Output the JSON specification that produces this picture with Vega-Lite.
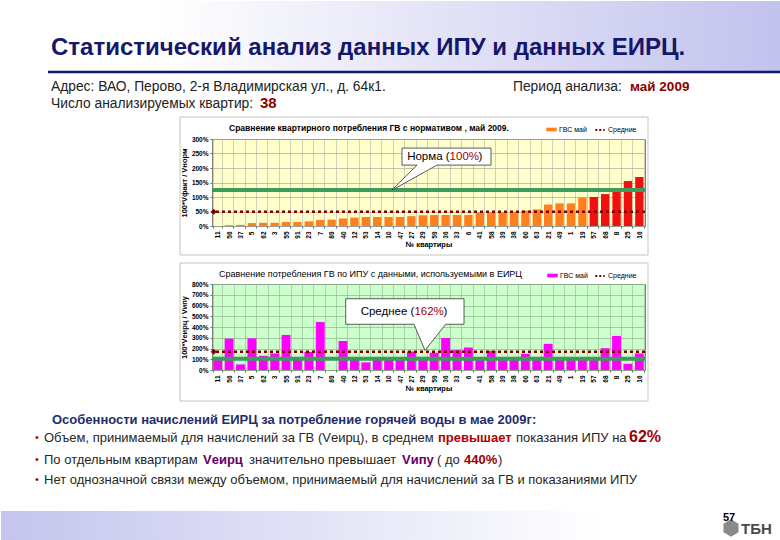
{
  "$schema": "https://vega.github.io/schema/vega-lite/v6.json",
  "padding": 0,
  "background": "white",
  "spacing": 6,
  "resolve": {"scale": {"fill": "independent", "stroke": "independent"}, "legend": {"fill": "independent", "stroke": "independent"}},
  "config": {
    "font": "Liberation Sans",
    "axis": {"labelColor": "#000", "titleColor": "#000", "domain": false, "tickColor": "#666", "tickSize": 2},
    "legend": {"labelFont": "Liberation Sans", "labelColor": "#000"}
  },
  "datasets": {
    "apts": [
      {"apt": "11", "v1": 0, "v2": 112, "c1": "ГВС май"},
      {"apt": "56", "v1": 3, "v2": 292, "c1": "ГВС май"},
      {"apt": "37", "v1": 4, "v2": 52, "c1": "ГВС май"},
      {"apt": "5", "v1": 10, "v2": 295, "c1": "ГВС май"},
      {"apt": "62", "v1": 11, "v2": 132, "c1": "ГВС май"},
      {"apt": "3", "v1": 11, "v2": 154, "c1": "ГВС май"},
      {"apt": "55", "v1": 14, "v2": 326, "c1": "ГВС май"},
      {"apt": "91", "v1": 14, "v2": 115, "c1": "ГВС май"},
      {"apt": "23", "v1": 16, "v2": 169, "c1": "ГВС май"},
      {"apt": "7", "v1": 21, "v2": 446, "c1": "ГВС май"},
      {"apt": "89", "v1": 22, "v2": 0, "c1": "ГВС май"},
      {"apt": "40", "v1": 26, "v2": 270, "c1": "ГВС май"},
      {"apt": "12", "v1": 29, "v2": 112, "c1": "ГВС май"},
      {"apt": "53", "v1": 31, "v2": 71, "c1": "ГВС май"},
      {"apt": "14", "v1": 31, "v2": 112, "c1": "ГВС май"},
      {"apt": "10", "v1": 31, "v2": 112, "c1": "ГВС май"},
      {"apt": "47", "v1": 31, "v2": 112, "c1": "ГВС май"},
      {"apt": "27", "v1": 34, "v2": 172, "c1": "ГВС май"},
      {"apt": "29", "v1": 37, "v2": 112, "c1": "ГВС май"},
      {"apt": "59", "v1": 38, "v2": 160, "c1": "ГВС май"},
      {"apt": "36", "v1": 38, "v2": 298, "c1": "ГВС май"},
      {"apt": "33", "v1": 38, "v2": 185, "c1": "ГВС май"},
      {"apt": "6", "v1": 38, "v2": 209, "c1": "ГВС май"},
      {"apt": "41", "v1": 46, "v2": 112, "c1": "ГВС май"},
      {"apt": "58", "v1": 47, "v2": 178, "c1": "ГВС май"},
      {"apt": "39", "v1": 47, "v2": 118, "c1": "ГВС май"},
      {"apt": "38", "v1": 49, "v2": 100, "c1": "ГВС май"},
      {"apt": "60", "v1": 53, "v2": 151, "c1": "ГВС май"},
      {"apt": "63", "v1": 57, "v2": 112, "c1": "ГВС май"},
      {"apt": "21", "v1": 74, "v2": 243, "c1": "ГВС май"},
      {"apt": "49", "v1": 78, "v2": 112, "c1": "ГВС май"},
      {"apt": "1", "v1": 78, "v2": 112, "c1": "ГВС май"},
      {"apt": "19", "v1": 98, "v2": 112, "c1": "ГВС май"},
      {"apt": "57", "v1": 100, "v2": 112, "c1": "выше нормы"},
      {"apt": "68", "v1": 110, "v2": 203, "c1": "выше нормы"},
      {"apt": "8", "v1": 118, "v2": 317, "c1": "выше нормы"},
      {"apt": "25", "v1": 155, "v2": 58, "c1": "выше нормы"},
      {"apt": "16", "v1": 169, "v2": 154, "c1": "выше нормы"}
    ],
    "one": [{}]
  },
  "vconcat": [
    {
      "width": 433,
      "height": 87,
      "view": {"fill": "#FFFFCC", "stroke": "#808080"},
      "layer": [
        {
          "data": {"name": "one"},
          "mark": {"type": "rect", "fill": {"gradient": "linear", "x1": 0, "x2": 1, "y1": 0, "y2": 0, "stops": [{"offset": 0, "color": "#FFFFFF"}, {"offset": 0.2, "color": "#FFFFFF"}, {"offset": 1, "color": "#C2C2EE"}]}},
          "encoding": {"x": {"value": -211}, "x2": {"value": 569}, "y": {"value": -138}, "y2": {"value": -68}}
        },
        {
          "data": {"name": "one"},
          "mark": {"type": "rule", "color": "#14186B", "strokeWidth": 2.5},
          "encoding": {"x": {"value": -164}, "x2": {"value": 569}, "y": {"value": -67}}
        },
        {
          "data": {"name": "one"},
          "mark": {"type": "rect", "fill": "#FFFFFF", "fillOpacity": 0, "stroke": "#C4C4C4", "strokeWidth": 1},
          "encoding": {"x": {"value": -32}, "x2": {"value": 436}, "y": {"value": -22}, "y2": {"value": 116}}
        },
        {
          "data": {"name": "apts"},
          "mark": {"type": "bar"},
          "encoding": {
            "x": {
              "field": "apt", "type": "nominal", "sort": null,
              "scale": {"paddingInner": 0.27, "paddingOuter": 0.13},
              "axis": {"labelAngle": -90, "labelFontSize": 6.5, "labelFontWeight": "bold", "labelPadding": 3, "title": "№ квартиры", "titleFontSize": 7.5, "titleFontWeight": "bold", "titlePadding": 2, "tickBand": "extent", "grid": true, "gridColor": "#BDBDA8", "gridWidth": 0.7}
            },
            "y": {
              "field": "v1", "type": "quantitative",
              "scale": {"domain": [0, 300], "nice": false},
              "axis": {"values": [0, 50, 100, 150, 200, 250, 300], "labelExpr": "datum.value + '%'", "labelFontSize": 6.5, "labelFontWeight": "bold", "title": "100*Vфакт / Vнорм", "titleFontSize": 7.5, "titleFontWeight": "bold", "titlePadding": 3, "gridColor": "#A8A8A0", "gridWidth": 0.7, "labelOverlap": false}
            },
            "fill": {
              "field": "c1", "type": "nominal",
              "scale": {"domain": ["ГВС май", "выше нормы"], "range": ["#FF7F1E", "#F01010"]},
              "legend": {"values": ["ГВС май"], "orient": "none", "legendX": 334, "legendY": -15, "title": null, "symbolType": "M-1,-0.35L1,-0.35L1,0.35L-1,0.35Z", "symbolSize": 110, "labelFontSize": 7, "labelOffset": 2, "padding": 0, "symbolStrokeWidth": 0}
            }
          }
        },
        {
          "data": {"name": "one"},
          "mark": {"type": "rule", "color": "#3D9C5A", "strokeWidth": 4},
          "encoding": {"y": {"datum": 124, "type": "quantitative", "scale": {"domain": [0, 300], "nice": false}, "axis": {"values": [0, 50, 100, 150, 200, 250, 300], "labelExpr": "datum.value + '%'", "labelFontSize": 6.5, "labelFontWeight": "bold", "title": "100*Vфакт / Vнорм", "titleFontSize": 7.5, "titleFontWeight": "bold", "titlePadding": 3, "gridColor": "#A8A8A0", "gridWidth": 0.7, "labelOverlap": false}}}
        },
        {
          "data": {"name": "one"},
          "mark": {"type": "rule", "strokeDash": [3, 3], "strokeWidth": 2.5},
          "encoding": {
            "y": {"datum": 49, "type": "quantitative", "scale": {"domain": [0, 300], "nice": false}, "axis": {"values": [0, 50, 100, 150, 200, 250, 300], "labelExpr": "datum.value + '%'", "labelFontSize": 6.5, "labelFontWeight": "bold", "title": "100*Vфакт / Vнорм", "titleFontSize": 7.5, "titleFontWeight": "bold", "titlePadding": 3, "gridColor": "#A8A8A0", "gridWidth": 0.7, "labelOverlap": false}},
            "stroke": {"datum": "Средние", "scale": {"domain": ["Средние"], "range": ["#800000"]}, "legend": {"orient": "none", "legendX": 382, "legendY": -15, "title": null, "symbolType": "M-1,0L1,0", "symbolSize": 90, "symbolStrokeWidth": 2, "symbolDash": [2, 2], "labelFontSize": 7, "labelOffset": 2, "padding": 0}}
          }
        },
        {
          "data": {"name": "one"},
          "mark": {"type": "point", "shape": "diamond", "filled": true, "color": "#800000", "size": 35, "opacity": 1, "xOffset": -4},
          "encoding": {"x": {"datum": "11"}, "y": {"datum": 49, "type": "quantitative", "scale": {"domain": [0, 300], "nice": false}, "axis": {"values": [0, 50, 100, 150, 200, 250, 300], "labelExpr": "datum.value + '%'", "labelFontSize": 6.5, "labelFontWeight": "bold", "title": "100*Vфакт / Vнорм", "titleFontSize": 7.5, "titleFontWeight": "bold", "titlePadding": 3, "gridColor": "#A8A8A0", "gridWidth": 0.7, "labelOverlap": false}}}
        },
        {
          "data": {"name": "one"},
          "mark": {"type": "point", "shape": "M-0.969,-0.187 L1.009,-0.187 L1.009,0.191 L-0.191,0.191 L-1.191,0.747 L-0.636,0.191 L-0.969,0.191 Z", "size": 8100, "filled": true, "fill": "#FFFFFF", "stroke": "#333333", "strokeWidth": 0.8, "opacity": 1},
          "encoding": {"x": {"datum": "36"}, "y": {"value": 17.5}}
        },
        {
          "data": {"name": "one"},
          "mark": {"type": "text", "text": "Норма (", "align": "right", "baseline": "middle", "fontSize": 11.5, "color": "#000", "dx": 4},
          "encoding": {"x": {"datum": "36"}, "y": {"value": 17.5}}
        },
        {
          "data": {"name": "one"},
          "mark": {"type": "text", "text": "100%", "align": "left", "baseline": "middle", "fontSize": 11.5, "color": "#A00000", "dx": 4},
          "encoding": {"x": {"datum": "36"}, "y": {"value": 17.5}}
        },
        {
          "data": {"name": "one"},
          "mark": {"type": "text", "text": ")", "align": "left", "baseline": "middle", "fontSize": 11.5, "color": "#000", "dx": 33},
          "encoding": {"x": {"datum": "36"}, "y": {"value": 17.5}}
        },
        {
          "data": {"name": "one"},
          "mark": {"type": "text", "text": "Сравнение квартирного потребления ГВ с нормативом , май 2009.", "align": "left", "baseline": "middle", "fontSize": 8.5, "fontWeight": "bold", "color": "#000"},
          "encoding": {"x": {"value": 17}, "y": {"value": -11}}
        },
        {
          "data": {"name": "one"},
          "mark": {"type": "text", "text": "Статистический анализ данных ИПУ и данных ЕИРЦ.", "align": "left", "baseline": "middle", "fontSize": 24, "fontWeight": "bold", "color": "#14186B"},
          "encoding": {"x": {"value": -161}, "y": {"value": -91}}
        },
        {
          "data": {"name": "one"},
          "mark": {"type": "text", "text": "Адрес: ВАО, Перово, 2-я Владимирская ул., д. 64к1.", "align": "left", "baseline": "middle", "fontSize": 13.8, "color": "#222"},
          "encoding": {"x": {"value": -161}, "y": {"value": -52}}
        },
        {
          "data": {"name": "one"},
          "mark": {"type": "text", "text": "Период анализа:", "align": "left", "baseline": "middle", "fontSize": 13.8, "color": "#222"},
          "encoding": {"x": {"value": 301}, "y": {"value": -52}}
        },
        {
          "data": {"name": "one"},
          "mark": {"type": "text", "text": "май 2009", "align": "left", "baseline": "middle", "fontSize": 13.5, "fontWeight": "bold", "color": "#8B0000"},
          "encoding": {"x": {"value": 418}, "y": {"value": -52}}
        },
        {
          "data": {"name": "one"},
          "mark": {"type": "text", "text": "Число анализируемых квартир:", "align": "left", "baseline": "middle", "fontSize": 13.8, "color": "#222"},
          "encoding": {"x": {"value": -161}, "y": {"value": -35}}
        },
        {
          "data": {"name": "one"},
          "mark": {"type": "text", "text": "38", "align": "left", "baseline": "middle", "fontSize": 15, "fontWeight": "bold", "color": "#8B0000"},
          "encoding": {"x": {"value": 48}, "y": {"value": -36}}
        }
      ]
    },
    {
      "width": 433,
      "height": 86,
      "view": {"fill": "#CCFFCC", "stroke": "#808080"},
      "layer": [
        {
          "data": {"name": "one"},
          "mark": {"type": "rect", "fill": {"gradient": "linear", "x1": 0, "x2": 1, "y1": 0, "y2": 0, "stops": [{"offset": 0, "color": "#C4C4EE"}, {"offset": 1, "color": "#FFFFFF"}]}},
          "encoding": {"x": {"value": -211}, "x2": {"value": 389}, "y": {"value": 227}, "y2": {"value": 259}}
        },
        {
          "data": {"name": "one"},
          "mark": {"type": "rect", "fill": "#FFFFFF", "fillOpacity": 0, "stroke": "#C4C4C4", "strokeWidth": 1},
          "encoding": {"x": {"value": -32}, "x2": {"value": 436}, "y": {"value": -21}, "y2": {"value": 117}}
        },
        {
          "data": {"name": "apts"},
          "mark": {"type": "bar"},
          "encoding": {
            "x": {
              "field": "apt", "type": "nominal", "sort": null,
              "scale": {"paddingInner": 0.22, "paddingOuter": 0.11},
              "axis": {"labelAngle": -90, "labelFontSize": 6.5, "labelFontWeight": "bold", "labelPadding": 3, "title": "№ квартиры", "titleFontSize": 7.5, "titleFontWeight": "bold", "titlePadding": 2, "tickBand": "extent", "grid": true, "gridColor": "#98BF98", "gridWidth": 0.7}
            },
            "y": {
              "field": "v2", "type": "quantitative",
              "scale": {"domain": [0, 800], "nice": false},
              "axis": {"values": [0, 100, 200, 300, 400, 500, 600, 700, 800], "labelExpr": "datum.value + '%'", "labelFontSize": 6.5, "labelFontWeight": "bold", "title": "100*Vеирц / Vипу", "titleFontSize": 7.5, "titleFontWeight": "bold", "titlePadding": 3, "gridColor": "#8FB58F", "gridWidth": 0.7, "labelOverlap": false}
            },
            "fill": {
              "datum": "ГВС май",
              "scale": {"domain": ["ГВС май"], "range": ["#FF00FF"]},
              "legend": {"orient": "none", "legendX": 335, "legendY": -14, "title": null, "symbolType": "M-1,-0.35L1,-0.35L1,0.35L-1,0.35Z", "symbolSize": 110, "labelFontSize": 7, "labelOffset": 2, "padding": 0, "symbolStrokeWidth": 0}
            }
          }
        },
        {
          "data": {"name": "one"},
          "mark": {"type": "rule", "color": "#3D9C5A", "strokeWidth": 4},
          "encoding": {"y": {"datum": 105, "type": "quantitative", "scale": {"domain": [0, 800], "nice": false}, "axis": {"values": [0, 100, 200, 300, 400, 500, 600, 700, 800], "labelExpr": "datum.value + '%'", "labelFontSize": 6.5, "labelFontWeight": "bold", "title": "100*Vеирц / Vипу", "titleFontSize": 7.5, "titleFontWeight": "bold", "titlePadding": 3, "gridColor": "#8FB58F", "gridWidth": 0.7, "labelOverlap": false}}}
        },
        {
          "data": {"name": "one"},
          "mark": {"type": "rule", "strokeDash": [3, 3], "strokeWidth": 2.5},
          "encoding": {
            "y": {"datum": 170, "type": "quantitative", "scale": {"domain": [0, 800], "nice": false}, "axis": {"values": [0, 100, 200, 300, 400, 500, 600, 700, 800], "labelExpr": "datum.value + '%'", "labelFontSize": 6.5, "labelFontWeight": "bold", "title": "100*Vеирц / Vипу", "titleFontSize": 7.5, "titleFontWeight": "bold", "titlePadding": 3, "gridColor": "#8FB58F", "gridWidth": 0.7, "labelOverlap": false}},
            "stroke": {"datum": "Средние", "scale": {"domain": ["Средние"], "range": ["#800000"]}, "legend": {"orient": "none", "legendX": 382, "legendY": -14, "title": null, "symbolType": "M-1,0L1,0", "symbolSize": 90, "symbolStrokeWidth": 2, "symbolDash": [2, 2], "labelFontSize": 7, "labelOffset": 2, "padding": 0}}
          }
        },
        {
          "data": {"name": "one"},
          "mark": {"type": "point", "shape": "diamond", "filled": true, "color": "#800000", "size": 35, "opacity": 1, "xOffset": -4},
          "encoding": {"x": {"datum": "11"}, "y": {"datum": 170, "type": "quantitative", "scale": {"domain": [0, 800], "nice": false}, "axis": {"values": [0, 100, 200, 300, 400, 500, 600, 700, 800], "labelExpr": "datum.value + '%'", "labelFontSize": 6.5, "labelFontWeight": "bold", "title": "100*Vеирц / Vипу", "titleFontSize": 7.5, "titleFontWeight": "bold", "titlePadding": 3, "gridColor": "#8FB58F", "gridWidth": 0.7, "labelOverlap": false}}}
        },
        {
          "data": {"name": "one"},
          "mark": {"type": "point", "shape": "M-1.095,-0.218 L0.877,-0.218 L0.877,0.208 L0.572,0.208 L0.227,0.642 L0.043,0.208 L-1.095,0.208 Z", "size": 14400, "filled": true, "fill": "#FFFFFF", "stroke": "#333333", "strokeWidth": 0.8, "opacity": 1},
          "encoding": {"x": {"datum": "27"}, "y": {"value": 27.8}}
        },
        {
          "data": {"name": "one"},
          "mark": {"type": "text", "text": "Среднее (", "align": "right", "baseline": "middle", "fontSize": 11.5, "color": "#000", "dx": 3},
          "encoding": {"x": {"datum": "27"}, "y": {"value": 27.8}}
        },
        {
          "data": {"name": "one"},
          "mark": {"type": "text", "text": "162%", "align": "left", "baseline": "middle", "fontSize": 11.5, "color": "#A00000", "dx": 3},
          "encoding": {"x": {"datum": "27"}, "y": {"value": 27.8}}
        },
        {
          "data": {"name": "one"},
          "mark": {"type": "text", "text": ")", "align": "left", "baseline": "middle", "fontSize": 11.5, "color": "#000", "dx": 32},
          "encoding": {"x": {"datum": "27"}, "y": {"value": 27.8}}
        },
        {
          "data": {"name": "one"},
          "mark": {"type": "text", "text": "Сравнение потребления ГВ по ИПУ  с данными, используемыми в ЕИРЦ", "align": "left", "baseline": "middle", "fontSize": 9, "color": "#000"},
          "encoding": {"x": {"value": 7}, "y": {"value": -10}}
        },
        {
          "data": {"name": "one"},
          "mark": {"type": "text", "text": "Особенности начислений ЕИРЦ за потребление горячей воды в мае 2009г:", "align": "left", "baseline": "middle", "fontSize": 13, "fontWeight": "bold", "color": "#1F2D6B"},
          "encoding": {"x": {"value": -160}, "y": {"value": 136}}
        },
        {
          "data": {"name": "one"},
          "mark": {"type": "text", "text": "•", "align": "left", "baseline": "middle", "fontSize": 11, "color": "#C00000"},
          "encoding": {"x": {"value": -177}, "y": {"value": 154}}
        },
        {
          "data": {"name": "one"},
          "mark": {"type": "text", "text": "•", "align": "left", "baseline": "middle", "fontSize": 11, "color": "#C00000"},
          "encoding": {"x": {"value": -177}, "y": {"value": 176}}
        },
        {
          "data": {"name": "one"},
          "mark": {"type": "text", "text": "•", "align": "left", "baseline": "middle", "fontSize": 11, "color": "#C00000"},
          "encoding": {"x": {"value": -177}, "y": {"value": 196}}
        },
        {
          "data": {"name": "one"},
          "mark": {"type": "text", "text": "Объем, принимаемый для начислений за ГВ (Vеирц), в среднем", "align": "left", "baseline": "middle", "fontSize": 13, "color": "#262626"},
          "encoding": {"x": {"value": -168}, "y": {"value": 154}}
        },
        {
          "data": {"name": "one"},
          "mark": {"type": "text", "text": "превышает", "align": "left", "baseline": "middle", "fontSize": 13, "fontWeight": "bold", "color": "#B00000"},
          "encoding": {"x": {"value": 226}, "y": {"value": 154}}
        },
        {
          "data": {"name": "one"},
          "mark": {"type": "text", "text": "показания ИПУ на", "align": "left", "baseline": "middle", "fontSize": 13, "color": "#262626"},
          "encoding": {"x": {"value": 304}, "y": {"value": 154}}
        },
        {
          "data": {"name": "one"},
          "mark": {"type": "text", "text": "62%", "align": "left", "baseline": "middle", "fontSize": 16, "fontWeight": "bold", "color": "#A00000"},
          "encoding": {"x": {"value": 417}, "y": {"value": 153}}
        },
        {
          "data": {"name": "one"},
          "mark": {"type": "text", "text": "По отдельным квартирам", "align": "left", "baseline": "middle", "fontSize": 13, "color": "#262626"},
          "encoding": {"x": {"value": -168}, "y": {"value": 176}}
        },
        {
          "data": {"name": "one"},
          "mark": {"type": "text", "text": "Vеирц", "align": "left", "baseline": "middle", "fontSize": 13, "fontWeight": "bold", "color": "#660066"},
          "encoding": {"x": {"value": -9}, "y": {"value": 176}}
        },
        {
          "data": {"name": "one"},
          "mark": {"type": "text", "text": "значительно превышает", "align": "left", "baseline": "middle", "fontSize": 13, "color": "#262626"},
          "encoding": {"x": {"value": 37}, "y": {"value": 176}}
        },
        {
          "data": {"name": "one"},
          "mark": {"type": "text", "text": "Vипу", "align": "left", "baseline": "middle", "fontSize": 13, "fontWeight": "bold", "color": "#660066"},
          "encoding": {"x": {"value": 190}, "y": {"value": 176}}
        },
        {
          "data": {"name": "one"},
          "mark": {"type": "text", "text": "( до", "align": "left", "baseline": "middle", "fontSize": 13, "color": "#262626"},
          "encoding": {"x": {"value": 225}, "y": {"value": 176}}
        },
        {
          "data": {"name": "one"},
          "mark": {"type": "text", "text": "440%", "align": "left", "baseline": "middle", "fontSize": 13, "fontWeight": "bold", "color": "#A00000"},
          "encoding": {"x": {"value": 252}, "y": {"value": 176}}
        },
        {
          "data": {"name": "one"},
          "mark": {"type": "text", "text": ")", "align": "left", "baseline": "middle", "fontSize": 13, "color": "#262626"},
          "encoding": {"x": {"value": 286}, "y": {"value": 176}}
        },
        {
          "data": {"name": "one"},
          "mark": {"type": "text", "text": "Нет однозначной связи между объемом, принимаемый для начислений за ГВ и показаниями ИПУ", "align": "left", "baseline": "middle", "fontSize": 13, "color": "#262626"},
          "encoding": {"x": {"value": -168}, "y": {"value": 196}}
        },
        {
          "data": {"name": "one"},
          "mark": {"type": "point", "shape": "M0,-1 L0.87,-0.5 L0.87,0.5 L0,1 L-0.87,0.5 L-0.87,-0.5 Z", "size": 300, "filled": true, "color": "#8A8A8A", "opacity": 1},
          "encoding": {"x": {"value": 519}, "y": {"value": 244}}
        },
        {
          "data": {"name": "one"},
          "mark": {"type": "text", "text": "57", "align": "left", "baseline": "middle", "fontSize": 11, "fontWeight": "bold", "color": "#000"},
          "encoding": {"x": {"value": 511}, "y": {"value": 234}}
        },
        {
          "data": {"name": "one"},
          "mark": {"type": "text", "text": "ТБН", "align": "left", "baseline": "middle", "fontSize": 15, "fontWeight": "bold", "color": "#4A4A4A"},
          "encoding": {"x": {"value": 529}, "y": {"value": 245}}
        }
      ]
    }
  ]
}
